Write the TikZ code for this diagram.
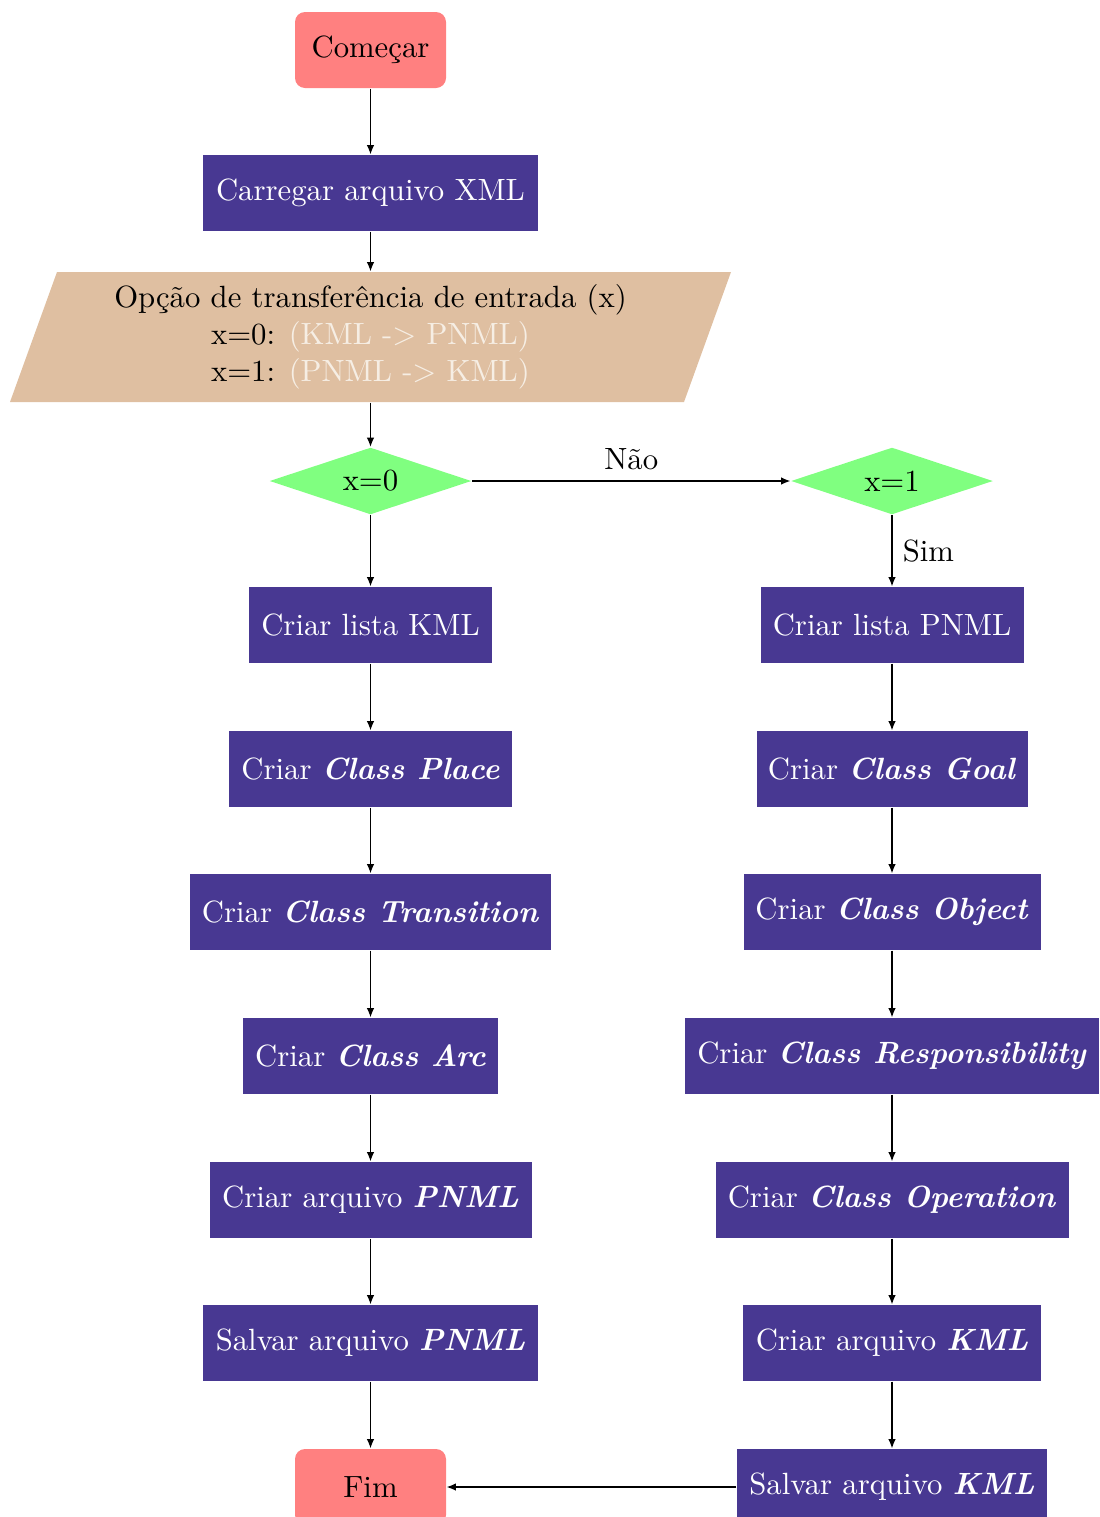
\documentclass[tikz,border=0pt]{standalone}
\usetikzlibrary{shapes.geometric,arrows.meta}
\definecolor{procfill}{RGB}{72,56,146}
\definecolor{termfill}{RGB}{255,128,128}
\definecolor{iofill}{RGB}{223,191,161}
\definecolor{decfill}{RGB}{128,255,128}
\definecolor{iohint}{RGB}{246,238,228}
\def\pxu{0.3255pt}
\newcommand{\bitx}[1]{\textbf{\textit{#1}}}
\begin{document}
\begin{tikzpicture}[x=0.3255pt,y=-0.3255pt,
  proc/.style={rectangle, fill=procfill, text=white, minimum height=76*\pxu, inner sep=0pt},
  term/.style={rectangle, rounded corners=10*\pxu, fill=termfill, minimum width=151*\pxu, minimum height=76*\pxu, inner sep=0pt},
  dec/.style={diamond, aspect=3, fill=decfill, minimum width=202*\pxu, minimum height=67*\pxu, inner sep=0pt},
  conn/.style={-{Latex[length=3pt,width=2.4pt]}, line width=0.4pt},
  lbl/.style={font=\normalsize}]
\useasboundingbox (0,0) rectangle (1099,1517);
\clip (0,0) rectangle (1099,1517);

% start and input
\node[term] (start) at (370.5,50) {Começar};
\node[proc, minimum width=335*\pxu] (load) at (370.5,193) {Carregar arquivo XML};
\fill[iofill] (57,272) -- (731,272) -- (684,402) -- (10,402) -- cycle;
\node[minimum height=130*\pxu, align=center, inner sep=0pt] (opt) at (370.5,337)
  {Opção de transferência de entrada (x)\\
   x=0: \textcolor{iohint}{(KML -> PNML)}\\
   x=1: \textcolor{iohint}{(PNML -> KML)}};

% decisions
\node[dec] (d0) at (370.5,481) {x=0};
\node[dec] (d1) at (892,481) {x=1};

% KML -> PNML branch
\node[proc, minimum width=243*\pxu] (lk) at (370.5,625) {Criar lista KML};
\node[proc, minimum width=283*\pxu] (place) at (370.5,769) {Criar \bitx{Class Place}};
\node[proc, minimum width=361*\pxu] (trans) at (370.5,912) {Criar \bitx{Class Transition}};
\node[proc, minimum width=255*\pxu] (arc) at (370.5,1056) {Criar \bitx{Class Arc}};
\node[proc, minimum width=322*\pxu] (cpnml) at (370.5,1200) {Criar arquivo \bitx{PNML}};
\node[proc, minimum width=335*\pxu] (spnml) at (370.5,1343) {Salvar arquivo \bitx{PNML}};
\node[term] (fim) at (370.5,1487) {Fim};

% PNML -> KML branch
\node[proc, minimum width=263*\pxu] (lp) at (892,625) {Criar lista PNML};
\node[proc, minimum width=271*\pxu] (goal) at (892,769) {Criar \bitx{Class Goal}};
\node[proc, minimum width=297*\pxu] (obj) at (892,912) {Criar \bitx{Class Object}};
\node[proc, minimum width=414*\pxu] (resp) at (892,1056) {Criar \bitx{Class Responsibility}};
\node[proc, minimum width=353*\pxu] (oper) at (892,1200) {Criar \bitx{Class Operation}};
\node[proc, minimum width=298*\pxu] (ckml) at (892,1343) {Criar arquivo \bitx{KML}};
\node[proc, minimum width=310*\pxu] (skml) at (892,1487) {Salvar arquivo \bitx{KML}};

% connectors
\draw[conn] (start) -- (load);
\draw[conn] (load) -- (opt);
\draw[conn] (opt) -- (d0);
\draw[conn] (d0) -- node[above, lbl] {Não} (d1);
\draw[conn] (d0) -- (lk);
\draw[conn] (lk) -- (place);
\draw[conn] (place) -- (trans);
\draw[conn] (trans) -- (arc);
\draw[conn] (arc) -- (cpnml);
\draw[conn] (cpnml) -- (spnml);
\draw[conn] (spnml) -- (fim);
\draw[conn] (d1) -- node[right, lbl] {Sim} (lp);
\draw[conn] (lp) -- (goal);
\draw[conn] (goal) -- (obj);
\draw[conn] (obj) -- (resp);
\draw[conn] (resp) -- (oper);
\draw[conn] (oper) -- (ckml);
\draw[conn] (ckml) -- (skml);
\draw[conn] (skml) -- (fim);
\end{tikzpicture}
\end{document}
